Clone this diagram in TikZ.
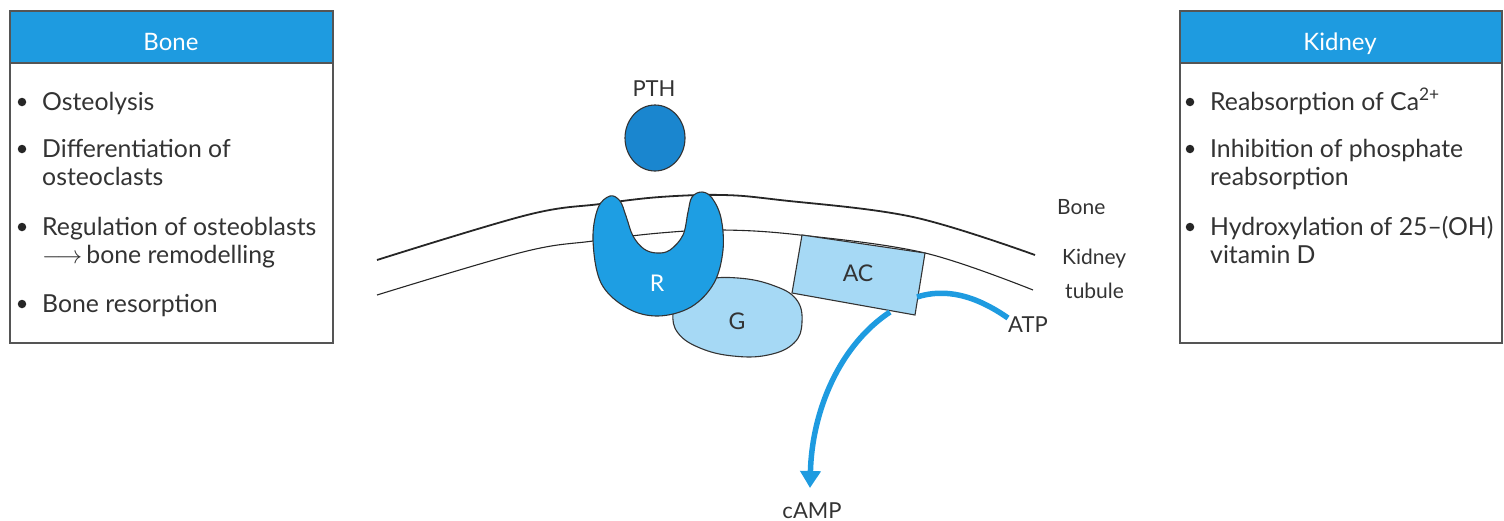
\documentclass[tikz,border=0pt]{standalone}
\usepackage{fontspec}
\setmainfont{Lato}
\usetikzlibrary{arrows.meta}
\definecolor{hdrblue}{HTML}{1E9BE0}
\definecolor{rblue}{HTML}{1E9EE3}
\definecolor{pthblue}{HTML}{1A86CF}
\definecolor{lblue}{HTML}{A6D9F5}
\definecolor{txtgray}{HTML}{333333}
\definecolor{framegray}{HTML}{555555}
\tikzset{
  panel/.style={draw=framegray, line width=1.6pt, fill=white},
  header/.style={fill=hdrblue, draw=framegray, line width=1.2pt},
  hdrtext/.style={text=white, font=\fontsize{24}{28}\selectfont, anchor=base},
  item/.style={text=txtgray, font=\fontsize{24.8}{30}\selectfont, anchor=base west, inner sep=0pt},
  dot/.style={circle, fill=black!85, minimum size=8.5pt, inner sep=0pt},
  lbl/.style={text=txtgray, font=\fontsize{21}{26}\selectfont, anchor=base, inner sep=0pt},
  memb/.style={draw=black!85, line width=1.8pt},
  membthin/.style={draw=black!85, line width=1.1pt},
  shapeline/.style={draw=black!80, line width=1.1pt},
  flow/.style={draw=hdrblue, line width=5.5pt},
}
\begin{document}
\begin{tikzpicture}[x=1pt,y=-1pt]
\useasboundingbox (0,0) rectangle (1504,520);
% ---------- Left panel ----------
\path[panel] (10,11) rectangle (333,343);
\path[header] (10,11) rectangle (333,63);
\node[hdrtext] (bonehdr) at (171,50) {Bone};
\foreach \y/\t [count=\i] in {110/Osteolysis, 157/Differentiation of, 185/osteoclasts, 235/Regulation of osteoblasts, 312/Bone resorption}{
  \node[item] (L\i) at (42,\y) {\t};
}
\node[item] (Lrem) at (42,263) {$\longrightarrow$\,bone remodelling};
\foreach \y [count=\i] in {102,149,227,304}{
  \node[dot] (Ld\i) at (22,\y) {};
}
% ---------- Right panel ----------
\path[panel] (1180,11) rectangle (1502,343);
\path[header] (1180,11) rectangle (1502,63);
\node[hdrtext] (kidhdr) at (1340,50) {Kidney};
\node[item] (R1) at (1210,110) {Reabsorption of Ca\textsuperscript{2+}};
\node[item] (R2) at (1210,157) {Inhibition of phosphate};
\node[item] (R3) at (1210,185) {reabsorption};
\node[item] (R4) at (1210,235) {Hydroxylation of 25–(OH)};
\node[item] (R5) at (1210,263) {vitamin D};
\foreach \y [count=\i] in {102,149,227}{
  \node[dot] (Rd\i) at (1190,\y) {};
}
% ---------- Membranes ----------
\draw[memb] plot[smooth, tension=0.6] coordinates {(377,260) (527,215) (600,204) (660,197) (723,195) (780,200) (913,217) (1035,255)};
\draw[membthin] plot[smooth, tension=0.6] coordinates {(377,295) (523,252) (593,241) (660,233) (723,230) (800,235) (925,253) (1033,290)};
\node[lbl, anchor=base west] (bonelbl) at (1057,214) {Bone};
\node[lbl, anchor=base west] (kid1) at (1062,264) {Kidney};
\node[lbl, anchor=base west] (kid2) at (1065,298) {tubule};
% ---------- PTH ----------
\node[lbl, font=\fontsize{22}{26}\selectfont] (pthlbl) at (654,96) {PTH};
\path[fill=pthblue, shapeline] (655,138) ellipse [x radius=30, y radius=33];
\node (pth) at (655,138) {};
% ---------- G protein ----------
\path[fill=lblue, shapeline] plot[smooth cycle, tension=0.7] coordinates {(680,293) (705,280) (738,278) (772,285) (796,299) (802,322) (794,343) (768,355) (733,356) (700,348) (678,333) (673,313)};
\node[text=txtgray, font=\fontsize{23}{28}\selectfont] (G) at (737,321) {G};
% ---------- Receptor ----------
\path[fill=rblue, shapeline] plot[smooth cycle, tension=0.6] coordinates {(610,196) (598,208) (593,240) (601,283) (627,308) (658,316) (691,307) (714,283) (723,250) (721,218) (712,198) (702,192) (692,197) (688,212) (683,235) (670,250) (657,253) (644,249) (633,236) (626,216) (620,201)};
\node[text=white, font=\fontsize{23}{28}\selectfont] (R) at (657,283) {R};
% ---------- Adenylate cyclase ----------
\path[fill=lblue, shapeline] (802,235) -- (925,253) -- (915,315) -- (792,293) -- cycle;
\node[text=txtgray, font=\fontsize{23}{28}\selectfont] (AC) at (858,273) {AC};
\coordinate (acR) at (917,297);
\coordinate (acB) at (890,312);
% ---------- ATP / cAMP ----------
\node[lbl, font=\fontsize{22}{26}\selectfont, anchor=base west] (ATP) at (1008,332) {ATP};
\node[lbl, font=\fontsize{22}{26}\selectfont] (cAMP) at (812,518) {cAMP};
\coordinate (atpend) at (1008,318);
\coordinate (campend) at (810,488);
\draw[flow] (acR) .. controls (945,288) and (975,295) .. (atpend);
\draw[flow, -{Triangle[width=20pt,length=17pt]}] (acB) .. controls (840,345) and (812,410) .. (campend);
\end{tikzpicture}
\end{document}
